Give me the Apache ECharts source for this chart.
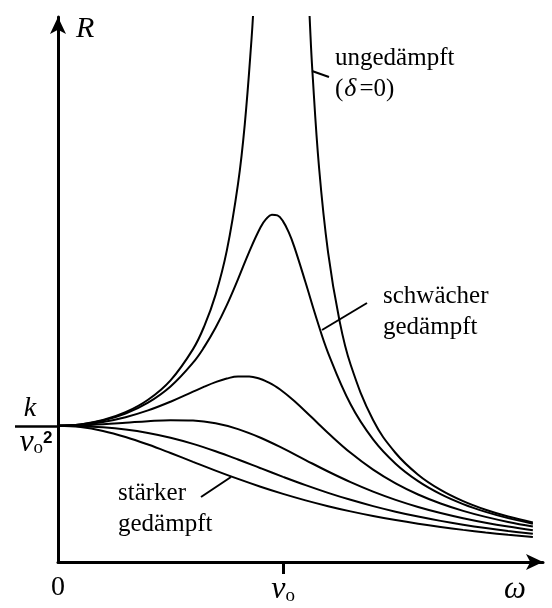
<!DOCTYPE html>
<html>
<head>
<meta charset="utf-8">
<script src="https://cdn.jsdelivr.net/npm/echarts@6/dist/echarts.min.js"></script>
<style>
html,body{margin:0;padding:0;background:#fff;}
#chart{width:552px;height:608px;}
</style>
</head>
<body>
<div id="chart"></div>
<script>
// ---- data (R in units of k/ν0², ω in units of ν0) ----
const omegaFine = [0,0.1,0.2,0.3,0.4,0.5,0.6,0.65,0.7,0.75,0.8,0.85,0.9,0.925,0.95,0.975,1.0,1.025,1.05,1.1,1.15,1.2,1.3,1.4,1.5,1.6,1.7,1.8,1.9,2.0,2.11];
const omegaCoarse = [0,0.1,0.2,0.3,0.4,0.5,0.6,0.7,0.8,0.9,1.0,1.1,1.2,1.3,1.4,1.5,1.6,1.7,1.8,1.9,2.0,2.11];
const omegaBelow = [0,0.1,0.2,0.3,0.4,0.5,0.6,0.65,0.7,0.75,0.8,0.83,0.86,0.87,0.88];
const omegaAbove = [1.11,1.12,1.13,1.16,1.2,1.25,1.3,1.4,1.5,1.6,1.7,1.8,1.9,2.0,2.11];

const undampedBelow = [1,1.0101,1.0417,1.0989,1.1905,1.3333,1.5625,1.7316,1.9608,2.2857,2.7778,3.2144,3.8402,4.1135,4.4326];
const undampedAbove = [4.3085,3.9308,3.6114,2.8935,2.2727,1.7778,1.4493,1.0417,0.8,0.6410,0.5291,0.4464,0.3831,0.3333,0.2897];
const weak1 = [1,1.0093,1.0381,1.0895,1.1695,1.2883,1.4630,1.5789,1.7188,1.8851,2.0762,2.2786,2.4566,2.5178,2.5490,2.5438,2.5,2.4207,2.3131,2.0511,1.7800,1.5357,1.1574,0.8998,0.7212,0.5931,0.4979,0.4250,0.3679,0.3221,0.2814];
const weak2 = [1,1.0068,1.0275,1.0626,1.1125,1.1765,1.25,1.2868,1.3203,1.3467,1.3618,1.3616,1.3429,1.3263,1.3051,1.2795,1.25,1.2172,1.1817,1.1053,1.0258,0.9469,0.8012,0.6779,0.5771,0.4956,0.4295,0.3755,0.3311,0.2941,0.2602];
const mid = [1,1.0028,1.0106,1.0218,1.0336,1.0412,1.0381,1.0176,0.9753,0.9119,0.8333,0.7482,0.6641,0.5862,0.5168,0.4563,0.4042,0.3596,0.3214,0.2885,0.2603,0.2336];
const strong1 = [1,0.9972,0.9882,0.9720,0.9469,0.9119,0.8667,0.8126,0.7521,0.6885,0.625,0.5642,0.5077,0.4563,0.4103,0.3695,0.3336,0.3019,0.2741,0.2496,0.2280,0.2071];
const strong2 = [1,0.9901,0.9615,0.9174,0.8621,0.8,0.7353,0.6711,0.6098,0.5525,0.5,0.4525,0.4098,0.3717,0.3378,0.3077,0.2809,0.2571,0.2358,0.2169,0.2,0.1834];

// annotation leader lines (data coordinates)
const leaderUndamped = [[1.1286,3.604],[1.2041,3.560]];
const leaderWeak = [[1.1730,1.7028],[1.3730,1.9009]];
const leaderStrong = [[0.6354,0.4771],[0.7687,0.6239]];

// tick labels
const xTickValues = [0, 1, 2.03];
const yTickValues = [1];

const SERIF = 'Liberation Serif';
const zip = (xs, ys) => xs.map((x, i) => [x, ys[i]]);

function curve(xs, ys) {
  return {
    type: 'line', data: zip(xs, ys), smooth: 0.4, showSymbol: false, symbol: 'none',
    lineStyle: {color: '#000', width: 2}, clip: true, silent: true
  };
}
function leader(pts) {
  return {
    type: 'line', data: pts, showSymbol: false, symbol: 'none',
    lineStyle: {color: '#000', width: 2}, silent: true
  };
}

const chart = echarts.init(document.getElementById('chart'), null, {renderer: 'canvas'});
chart.setOption({
  animation: false,
  backgroundColor: '#fff',
  grid: {left: 58, right: 9, top: 17, bottom: 46, outerBoundsMode: 'none'},
  xAxis: {
    type: 'value', min: 0, max: 2.155,
    splitLine: {show: false},
    axisLine: {show: true, symbol: ['none', 'arrow'], symbolSize: [12, 17], lineStyle: {color: '#000', width: 3}},
    axisTick: {show: true, customValues: [1], length: 12, lineStyle: {color: '#000', width: 3}},
    axisLabel: {
      customValues: xTickValues, margin: 12, color: '#000', fontFamily: SERIF, fontSize: 28,
      formatter: function (v) {
        if (v === 0) return '0';
        if (v === 1) return '{n|ν}{o|o}';
        return '{w|ω}';
      },
      rich: {
        n: {fontFamily: SERIF, fontStyle: 'italic', fontSize: 32, color: '#000'},
        o: {fontFamily: SERIF, fontSize: 19, color: '#000', verticalAlign: 'bottom', lineHeight: 26},
        w: {fontFamily: SERIF, fontStyle: 'italic', fontSize: 31, color: '#000'}
      }
    }
  },
  yAxis: {
    type: 'value', min: 0, max: 4,
    name: 'R', nameLocation: 'end', nameGap: -12,
    nameTextStyle: {fontFamily: SERIF, fontStyle: 'italic', fontSize: 30, color: '#000', align: 'left', verticalAlign: 'middle', padding: [0, 0, 0, 18]},
    splitLine: {show: false},
    axisLine: {show: true, symbol: ['none', 'arrow'], symbolSize: [12, 17], lineStyle: {color: '#000', width: 3}},
    axisTick: {show: true, customValues: yTickValues, length: 43, lineStyle: {color: '#000', width: 2.5}},
    axisLabel: {
      customValues: yTickValues, margin: 22, align: 'center', color: '#000',
      formatter: function () { return '{k|k}\n{n|ν}{o|o}{s|2}'; },
      rich: {
        k: {fontFamily: SERIF, fontStyle: 'italic', fontSize: 28, color: '#000', lineHeight: 34, padding: [0, 12, 0, 0]},
        n: {fontFamily: SERIF, fontStyle: 'italic', fontSize: 32, color: '#000', lineHeight: 34},
        o: {fontFamily: SERIF, fontSize: 19, color: '#000', lineHeight: 34, verticalAlign: 'bottom', padding: [0, 0, 2, 0]},
        s: {fontFamily: 'Liberation Sans', fontWeight: 'bold', fontSize: 17, color: '#000', lineHeight: 34, verticalAlign: 'top', padding: [4, 0, 0, 0]}
      }
    }
  },
  graphic: [
    {type: 'text', x: 335, y: 43, silent: true, style: {
      text: 'ungedämpft\n({d|δ}=0)', fontFamily: SERIF, fontSize: 25, fill: '#000', lineHeight: 31, verticalAlign: 'top',
      rich: {d: {fontFamily: SERIF, fontStyle: 'italic', fontSize: 26, fill: '#000', lineHeight: 31, padding: [0, 3, 0, 1]}}
    }},
    {type: 'text', x: 383, y: 281, silent: true, style: {
      text: 'schwächer\ngedämpft', fontFamily: SERIF, fontSize: 25, fill: '#000', lineHeight: 31, verticalAlign: 'top'
    }},
    {type: 'text', x: 118, y: 478, silent: true, style: {
      text: 'stärker\ngedämpft', fontFamily: SERIF, fontSize: 25, fill: '#000', lineHeight: 31, verticalAlign: 'top'
    }}
  ],
  series: [
    curve(omegaBelow, undampedBelow),
    curve(omegaAbove, undampedAbove),
    curve(omegaFine, weak1),
    curve(omegaFine, weak2),
    curve(omegaCoarse, mid),
    curve(omegaCoarse, strong1),
    curve(omegaCoarse, strong2),
    leader(leaderUndamped),
    leader(leaderWeak),
    leader(leaderStrong)
  ]
});
</script>
</body>
</html>
